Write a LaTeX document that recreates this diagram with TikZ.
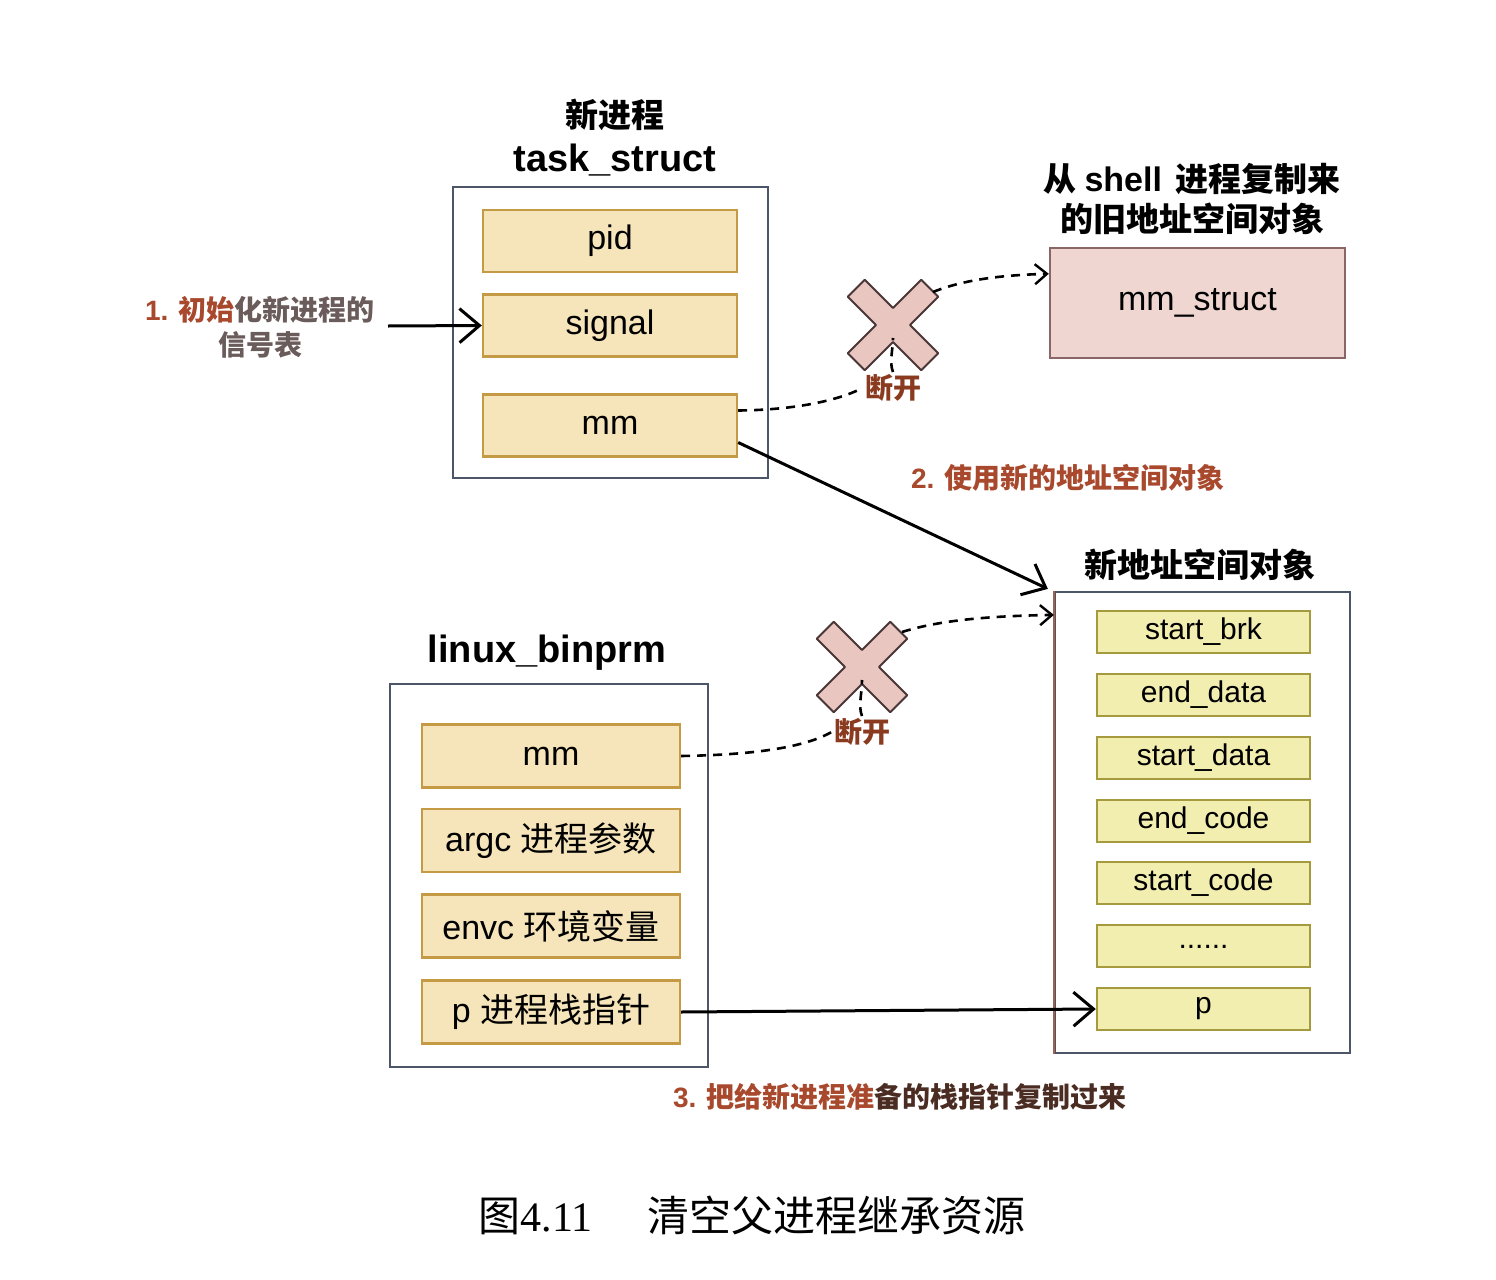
\documentclass[tikz,border=0pt]{standalone}
\usepackage{fontspec}
\setmainfont{Liberation Sans}
\newfontfamily\cjk{Noto Sans CJK SC}
\newfontfamily\capserif{Liberation Serif}
\newcommand\zh[1]{{\cjk #1}}
\usetikzlibrary{arrows.meta}

\definecolor{boxline}{HTML}{4D5668}
\definecolor{tanfill}{HTML}{F6E5BA}
\definecolor{tanline}{HTML}{C49A45}
\definecolor{yelfill}{HTML}{F2EEB0}
\definecolor{yelline}{HTML}{A69A3E}
\definecolor{pinkfill}{HTML}{EFD6D1}
\definecolor{pinkline}{HTML}{8A6666}
\definecolor{xfill}{HTML}{EAC6C0}
\definecolor{xline}{HTML}{4A3636}
\definecolor{cutred}{HTML}{8A3A1E}
\definecolor{notered}{HTML}{A8482C}
\definecolor{notegray}{HTML}{6A5C5A}
\definecolor{notedark}{HTML}{4A2C22}

\begin{document}
\begin{tikzpicture}[x=0.5pt,y=-0.5pt,
  outerbox/.style={draw=boxline, line width=1.1pt, inner sep=0pt},
  tanfield/.style={draw=tanline, fill=tanfill, line width=1.2pt, inner sep=0pt,
    font=\fontsize{17}{20}\selectfont},
  yelfield/.style={draw=yelline, fill=yelfill, line width=1.2pt, inner sep=0pt,
    minimum width=106.5pt, minimum height=21pt, font=\fontsize{15}{18}\selectfont},
  heading/.style={font=\bfseries\fontsize{19}{20}\selectfont, align=center, inner sep=0pt},
  zhheading/.style={font=\bfseries\cjk\fontsize{16.5}{19}\selectfont, align=center, inner sep=0pt},
  note/.style={font=\bfseries\fontsize{14}{17.5}\selectfont, align=center, inner sep=0pt},
  cutlabel/.style={font=\bfseries\cjk\fontsize{14}{16}\selectfont, text=cutred, inner sep=1pt},
  xmark/.style={draw=xline, fill=xfill, line width=1pt, line join=round},
  solidarrow/.style={line width=1.5pt, -{Straight Barb[length=10pt,width=17pt,line width=1.5pt]}},
  dasharrow/.style={line width=1.3pt, dash pattern=on 4.5pt off 3.5pt, -{Straight Barb[length=6pt,width=10pt,line width=1.2pt]}},
  dashline/.style={line width=1.3pt, dash pattern=on 4.5pt off 3.5pt}
]
\useasboundingbox[fill=white] (0,0) rectangle (1496,1280);

% ---------- new process task_struct ----------
\node[heading] (tstitle) at (615,138)
  {{\cjk\fontsize{16.5}{20}\selectfont 新进程}\\[2pt]task\_struct};
\node[outerbox, minimum width=157.5pt, minimum height=145.5pt] (ts) at (610.5,332.5) {};
\node[tanfield, minimum width=127pt, minimum height=31pt] (pid) at (610,241) {pid};
\node[tanfield, minimum width=127pt, minimum height=31pt] (sig) at (610,325.5) {signal};
\node[tanfield, minimum width=127pt, minimum height=31pt] (tmm) at (610,425.5) {mm};

% step 1 note
\node[note] (n1) at (260,327)
  {\textcolor{notered}{1. \zh{初始}}\textcolor{notegray}{\zh{化新进程的}}\\
   \textcolor{notegray}{\zh{信号表}}};
\coordinate (n1end) at (388,326);
\draw[solidarrow] (n1end) -- (sig.west);

% ---------- old address space ----------
\node[zhheading] (omtitle) at (1192,199)
  {从 {\normalfont\bfseries\fontsize{17}{19}\selectfont shell}\, 进程复制来\\[1pt]的旧地址空间对象};
\node[draw=pinkline, fill=pinkfill, line width=1.2pt, inner sep=0pt,
      minimum width=147.5pt, minimum height=55pt, font=\fontsize{17}{20}\selectfont]
      (om) at (1197.5,303) {mm\_struct};

% first cut
\begin{scope}[shift={(893,325)}, rotate=45]
  \draw[xmark] (12,52) -- (12,12) -- (52,12) -- (52,-12) -- (12,-12) -- (12,-52)
    -- (-12,-52) -- (-12,-12) -- (-52,-12) -- (-52,12) -- (-12,12) -- (-12,52) -- cycle;
\end{scope}
\coordinate (x1) at (893,338);
\coordinate (x1tip) at (933,292);
\node[cutlabel] (dk1) at (893,388) {断开};

\draw[dashline] ([yshift=7.5pt]tmm.east) .. controls (790,410) and (835,402) .. (dk1.west);
\draw[dashline] (dk1.north) .. controls (889,362) and (893,350) .. (x1);
\draw[dasharrow] (x1tip) .. controls (965,279) and (1005,275) .. ([yshift=-13.5pt]om.north west);

% step 2
\node[note] (n2) at (1068,478)
  {\textcolor{notered}{2. \zh{使用新的地址空间对象}}};

% ---------- new address space ----------
\node[zhheading] (natitle) at (1200,565) {新地址空间对象};
\node[outerbox, minimum width=147.5pt, minimum height=230.5pt] (na) at (1202.5,822.5) {};
\draw[draw=cutred!80, line width=1.1pt] (na.north west) -- (na.south west);
\node[yelfield] (f1) at (1203.5,632) {start\_brk};
\node[yelfield] (f2) at (1203.5,695) {end\_data};
\node[yelfield] (f3) at (1203.5,758) {start\_data};
\node[yelfield] (f4) at (1203.5,821) {end\_code};
\node[yelfield] (f5) at (1203.5,883) {start\_code};
\node[yelfield] (f6) at (1203.5,946) {\raisebox{-0.35ex}{......}};
\node[yelfield] (np) at (1203.5,1009) {p};

\draw[solidarrow] ([yshift=-8.5pt]tmm.east) -- ([xshift=-3pt,yshift=1pt]na.north west);

% ---------- linux_binprm ----------
\node[heading] (bptitle) at (547,653) {linux\_binprm};
\node[outerbox, minimum width=159pt, minimum height=191.5pt] (bp) at (549,875.5) {};
\node[tanfield, minimum width=129pt, minimum height=31.5pt] (bmm) at (551,756) {mm};
\node[tanfield, minimum width=129pt, minimum height=31.5pt] (barg) at (551,840.5) {argc \zh{进程参数}};
\node[tanfield, minimum width=129pt, minimum height=31.5pt] (benv) at (551,926) {envc \zh{环境变量}};
\node[tanfield, minimum width=129pt, minimum height=31.5pt] (bsp) at (551,1012) {p \zh{进程栈指针}};

% second cut
\begin{scope}[shift={(862,667)}, rotate=45]
  \draw[xmark] (12,52) -- (12,12) -- (52,12) -- (52,-12) -- (12,-12) -- (12,-52)
    -- (-12,-52) -- (-12,-12) -- (-52,-12) -- (-52,12) -- (-12,12) -- (-12,52) -- cycle;
\end{scope}
\coordinate (x2) at (862,680);
\coordinate (x2tip) at (902,632);
\node[cutlabel] (dk2) at (862,732) {断开};

\draw[dashline] (bmm.east) .. controls (740,755) and (800,750) .. (dk2.west);
\draw[dashline] (dk2.north) .. controls (858,706) and (862,694) .. (x2);
\draw[dasharrow] (x2tip) .. controls (940,620) and (990,616) .. ([yshift=-12pt]na.north west);

% step 3
\draw[solidarrow] (bsp.east) -- (np.west);
\node[note] (n3) at (900,1097)
  {\textcolor{notered}{3. \zh{把给新进程准}}\textcolor{notedark}{\zh{备的栈指针复制过来}}};

% ---------- caption ----------
\node[inner sep=0pt, font=\fontsize{21}{24}\selectfont] (cap) at (752,1215)
  {\zh{图}{\capserif 4.11}\hspace{1.3em}\zh{清空父进程继承资源}};
\end{tikzpicture}
\end{document}
